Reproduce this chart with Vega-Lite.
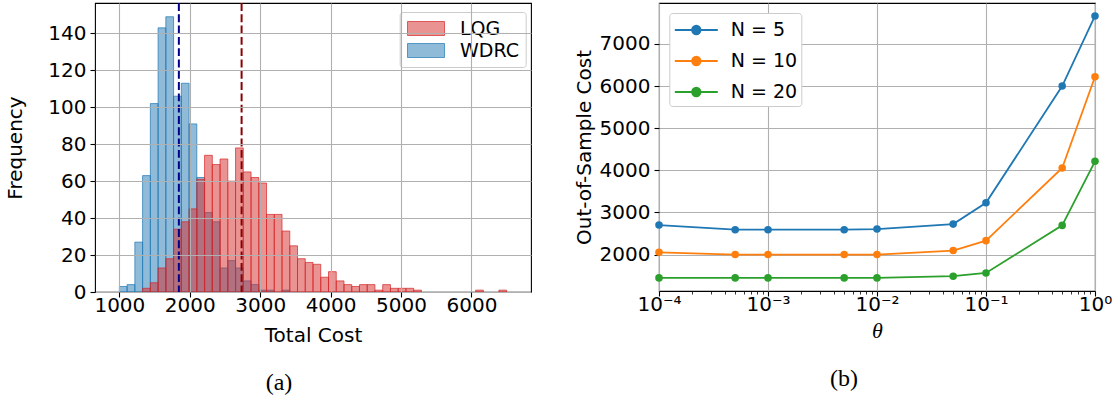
{
  "$schema": "https://vega.github.io/schema/vega-lite/v6.json",
  "background": "white",
  "padding": {"left": 5, "top": 1, "right": 5, "bottom": 0},
  "spacing": 41,
  "config": {
    "view": {"stroke": "#000000", "strokeWidth": 1.1},
    "axis": {
      "labelFont": "DejaVu Sans", "labelFontSize": 20, "labelColor": "#000000",
      "titleFont": "DejaVu Sans", "titleFontSize": 20, "titleFontWeight": "normal", "titleColor": "#000000",
      "tickColor": "#000000", "tickSize": 5, "tickWidth": 1.1, "domain": false,
      "gridColor": "#b0b0b0", "gridWidth": 1.1, "labelPadding": 4, "labelFlush": false, "labelOverlap": false
    }
  },
  "resolve": {"scale": {"fill": "independent", "stroke": "independent", "color": "independent"}},
  "hconcat": [
    {
      "width": 436,
      "height": 289,
      "title": {"text": "(a)", "orient": "bottom", "frame": "group", "anchor": "middle", "dx": -34, "offset": 26, "font": "Liberation Serif", "fontSize": 24, "fontWeight": "normal", "color": "#000000"},
      "layer": [
        {
          "data": {"values": [
            {"series": "WDRC", "start": 1000, "end": 1110, "count": 3},
            {"series": "WDRC", "start": 1110, "end": 1220, "count": 4},
            {"series": "WDRC", "start": 1220, "end": 1330, "count": 27},
            {"series": "WDRC", "start": 1330, "end": 1440, "count": 63},
            {"series": "WDRC", "start": 1440, "end": 1550, "count": 102},
            {"series": "WDRC", "start": 1550, "end": 1660, "count": 143},
            {"series": "WDRC", "start": 1660, "end": 1770, "count": 149},
            {"series": "WDRC", "start": 1770, "end": 1880, "count": 106},
            {"series": "WDRC", "start": 1880, "end": 1990, "count": 113},
            {"series": "WDRC", "start": 1990, "end": 2100, "count": 91},
            {"series": "WDRC", "start": 2100, "end": 2210, "count": 62},
            {"series": "WDRC", "start": 2210, "end": 2320, "count": 43},
            {"series": "WDRC", "start": 2320, "end": 2430, "count": 38},
            {"series": "WDRC", "start": 2430, "end": 2540, "count": 13},
            {"series": "WDRC", "start": 2540, "end": 2650, "count": 17},
            {"series": "WDRC", "start": 2650, "end": 2760, "count": 13},
            {"series": "WDRC", "start": 2760, "end": 2870, "count": 6},
            {"series": "WDRC", "start": 2870, "end": 2980, "count": 4},
            {"series": "WDRC", "start": 2980, "end": 3090, "count": 1},
            {"series": "WDRC", "start": 3090, "end": 3200, "count": 1},
            {"series": "WDRC", "start": 3310, "end": 3420, "count": 1},
            {"series": "LQG", "start": 1330, "end": 1440, "count": 2},
            {"series": "LQG", "start": 1440, "end": 1550, "count": 5},
            {"series": "LQG", "start": 1550, "end": 1660, "count": 13},
            {"series": "LQG", "start": 1660, "end": 1770, "count": 18},
            {"series": "LQG", "start": 1770, "end": 1880, "count": 34},
            {"series": "LQG", "start": 1880, "end": 1990, "count": 38},
            {"series": "LQG", "start": 1990, "end": 2100, "count": 45},
            {"series": "LQG", "start": 2100, "end": 2210, "count": 61},
            {"series": "LQG", "start": 2210, "end": 2320, "count": 74},
            {"series": "LQG", "start": 2320, "end": 2430, "count": 69},
            {"series": "LQG", "start": 2430, "end": 2540, "count": 72},
            {"series": "LQG", "start": 2540, "end": 2650, "count": 60},
            {"series": "LQG", "start": 2650, "end": 2760, "count": 78},
            {"series": "LQG", "start": 2760, "end": 2870, "count": 65},
            {"series": "LQG", "start": 2870, "end": 2980, "count": 62},
            {"series": "LQG", "start": 2980, "end": 3090, "count": 59},
            {"series": "LQG", "start": 3090, "end": 3200, "count": 42},
            {"series": "LQG", "start": 3200, "end": 3310, "count": 42},
            {"series": "LQG", "start": 3310, "end": 3420, "count": 33},
            {"series": "LQG", "start": 3420, "end": 3530, "count": 25},
            {"series": "LQG", "start": 3530, "end": 3640, "count": 18},
            {"series": "LQG", "start": 3640, "end": 3750, "count": 16},
            {"series": "LQG", "start": 3750, "end": 3860, "count": 15},
            {"series": "LQG", "start": 3860, "end": 3970, "count": 8},
            {"series": "LQG", "start": 3970, "end": 4080, "count": 11},
            {"series": "LQG", "start": 4080, "end": 4190, "count": 6},
            {"series": "LQG", "start": 4190, "end": 4300, "count": 4},
            {"series": "LQG", "start": 4300, "end": 4410, "count": 3},
            {"series": "LQG", "start": 4410, "end": 4520, "count": 4},
            {"series": "LQG", "start": 4520, "end": 4630, "count": 4},
            {"series": "LQG", "start": 4630, "end": 4740, "count": 1},
            {"series": "LQG", "start": 4740, "end": 4850, "count": 4},
            {"series": "LQG", "start": 4850, "end": 4960, "count": 2},
            {"series": "LQG", "start": 4960, "end": 5070, "count": 2},
            {"series": "LQG", "start": 5070, "end": 5180, "count": 2},
            {"series": "LQG", "start": 5180, "end": 5290, "count": 1},
            {"series": "LQG", "start": 6060, "end": 6170, "count": 1},
            {"series": "LQG", "start": 6390, "end": 6500, "count": 1}
          ]},
          "mark": {"type": "bar", "orient": "vertical", "fillOpacity": 0.5, "strokeOpacity": 0.7, "strokeWidth": 1},
          "encoding": {
            "x": {"field": "start", "type": "quantitative",
                  "scale": {"domain": [725, 6775], "nice": false, "zero": false},
                  "axis": {"values": [1000, 2000, 3000, 4000, 5000, 6000], "format": "d", "title": "Total Cost", "labelPadding": -2, "titlePadding": 10, "grid": true, "zindex": 1}},
            "x2": {"field": "end"},
            "y": {"field": "count", "type": "quantitative",
                  "scale": {"domain": [0, 156.45], "nice": false},
                  "axis": {"values": [0, 20, 40, 60, 80, 100, 120, 140], "format": "d", "title": "Frequency", "titlePadding": 22, "grid": true, "zindex": 1}},
            "y2": {"datum": 0},
            "fill": {"field": "series", "type": "nominal",
                     "scale": {"domain": ["LQG", "WDRC"], "range": ["#d62728", "#1f77b4"]},
                     "legend": {"title": null, "orient": "none", "legendX": 304.7, "legendY": 9,
                                "symbolType": "M-1.85,-0.7H1.85V0.7H-1.85Z", "symbolSize": 400, "symbolStrokeWidth": 1,
                                "symbolOffset": 9.8, "labelOffset": 23.5, "labelFont": "DejaVu Sans", "labelFontSize": 19, "labelColor": "#000000",
                                "rowPadding": 1, "padding": 6, "strokeColor": "#cccccc", "fillColor": "#ffffff", "cornerRadius": 3,
                                "encode": {"symbols": {"update": {"fillOpacity": {"value": 0.5}, "strokeOpacity": {"value": 0.7}}}}}},
            "stroke": {"field": "series", "type": "nominal",
                       "scale": {"domain": ["LQG", "WDRC"], "range": ["#d62728", "#1f77b4"]},
                       "legend": {"title": null, "orient": "none", "legendX": 304.7, "legendY": 9,
                                  "symbolType": "M-1.85,-0.7H1.85V0.7H-1.85Z", "symbolSize": 400, "symbolStrokeWidth": 1,
                                  "symbolOffset": 9.8, "labelOffset": 23.5, "labelFont": "DejaVu Sans", "labelFontSize": 19, "labelColor": "#000000",
                                  "rowPadding": 1, "padding": 6, "strokeColor": "#cccccc", "fillColor": "#ffffff", "cornerRadius": 3,
                                  "encode": {"symbols": {"update": {"fillOpacity": {"value": 0.5}, "strokeOpacity": {"value": 0.7}}}}}}
          }
        },
        {
          "data": {"values": [
            {"series": "LQG", "mean": 2736},
            {"series": "WDRC", "mean": 1845}
          ]},
          "mark": {"type": "rule", "strokeDash": [7.9, 3.4], "strokeWidth": 2},
          "encoding": {
            "x": {"field": "mean", "type": "quantitative"},
            "color": {"field": "series", "type": "nominal", "scale": {"domain": ["LQG", "WDRC"], "range": ["#8b0000", "#00008b"]}, "legend": null}
          }
        }
      ]
    },
    {
      "width": 436,
      "height": 288,
      "title": {"text": "(b)", "orient": "bottom", "frame": "group", "anchor": "middle", "dx": -33, "offset": 26, "font": "Liberation Serif", "fontSize": 24, "fontWeight": "normal", "color": "#000000"},
      "data": {"values": [
        {"N": "N = 5", "theta": 0.0001, "cost": 2700},
        {"N": "N = 5", "theta": 0.0005, "cost": 2591},
        {"N": "N = 5", "theta": 0.001, "cost": 2591},
        {"N": "N = 5", "theta": 0.005, "cost": 2591},
        {"N": "N = 5", "theta": 0.01, "cost": 2605},
        {"N": "N = 5", "theta": 0.05, "cost": 2723},
        {"N": "N = 5", "theta": 0.1, "cost": 3229},
        {"N": "N = 5", "theta": 0.5, "cost": 6000},
        {"N": "N = 5", "theta": 1, "cost": 7662},
        {"N": "N = 10", "theta": 0.0001, "cost": 2054},
        {"N": "N = 10", "theta": 0.0005, "cost": 2000},
        {"N": "N = 10", "theta": 0.001, "cost": 2000},
        {"N": "N = 10", "theta": 0.005, "cost": 2000},
        {"N": "N = 10", "theta": 0.01, "cost": 2000},
        {"N": "N = 10", "theta": 0.05, "cost": 2095},
        {"N": "N = 10", "theta": 0.1, "cost": 2331},
        {"N": "N = 10", "theta": 0.5, "cost": 4055},
        {"N": "N = 10", "theta": 1, "cost": 6220},
        {"N": "N = 20", "theta": 0.0001, "cost": 1447},
        {"N": "N = 20", "theta": 0.0005, "cost": 1447},
        {"N": "N = 20", "theta": 0.001, "cost": 1447},
        {"N": "N = 20", "theta": 0.005, "cost": 1447},
        {"N": "N = 20", "theta": 0.01, "cost": 1447},
        {"N": "N = 20", "theta": 0.05, "cost": 1487},
        {"N": "N = 20", "theta": 0.1, "cost": 1565},
        {"N": "N = 20", "theta": 0.5, "cost": 2693},
        {"N": "N = 20", "theta": 1, "cost": 4213}
      ]},
      "resolve": {"axis": {"x": "independent"}},
      "layer": [
        {
          "mark": {"type": "line", "strokeWidth": 1.8},
          "encoding": {
            "x": {"field": "theta", "type": "quantitative",
                  "scale": {"type": "log", "domain": [0.0001, 1], "nice": false},
                  "axis": {"values": [0.0001, 0.001, 0.01, 0.1, 1], "grid": true, "title": "θ", "titleFont": "Liberation Serif", "titleFontStyle": "italic", "titleFontSize": 22, "labelPadding": -2, "titlePadding": 6,
                           "labelExpr": "datum.value < 0.0005 ? '10⁻⁴' : datum.value < 0.005 ? '10⁻³' : datum.value < 0.05 ? '10⁻²' : datum.value < 0.5 ? '10⁻¹' : '10⁰'"}},
            "y": {"field": "cost", "type": "quantitative",
                  "scale": {"domain": [1136, 7970], "nice": false, "zero": false},
                  "axis": {"values": [2000, 3000, 4000, 5000, 6000, 7000], "format": "d", "grid": true, "title": "Out-of-Sample Cost", "titlePadding": 5}},
            "stroke": {"field": "N", "type": "nominal",
                       "scale": {"domain": ["N = 5", "N = 10", "N = 20"], "range": ["#1f77b4", "#ff7f0e", "#2ca02c"]},
                       "legend": {"title": null, "orient": "none", "legendX": 10.3, "legendY": 10,
                                  "symbolType": "M-1.79,0H1.79M-0.354,0A0.354,0.354,0,1,1,0.354,0A0.354,0.354,0,1,1,-0.354,0Z",
                                  "symbolSize": 576, "symbolStrokeWidth": 1.8, "symbolOffset": 10, "labelOffset": 21.5,
                                  "labelFont": "DejaVu Sans", "labelFontSize": 19, "labelColor": "#000000",
                                  "rowPadding": 8, "padding": 4, "strokeColor": "#cccccc", "fillColor": "#ffffff", "cornerRadius": 3}}
          }
        },
        {
          "mark": {"type": "point", "filled": true, "size": 57, "opacity": 1},
          "encoding": {
            "x": {"field": "theta", "type": "quantitative",
                  "axis": {"orient": "bottom", "values": [0.0002, 0.0003, 0.0004, 0.0005, 0.0006, 0.0007, 0.0008, 0.0009, 0.002, 0.003, 0.004, 0.005, 0.006, 0.007, 0.008, 0.009, 0.02, 0.03, 0.04, 0.05, 0.06, 0.07, 0.08, 0.09, 0.2, 0.3, 0.4, 0.5, 0.6, 0.7, 0.8, 0.9],
                           "labels": false, "grid": false, "title": null, "tickSize": 3, "tickWidth": 0.8}},
            "y": {"field": "cost", "type": "quantitative"},
            "fill": {"field": "N", "type": "nominal",
                     "scale": {"domain": ["N = 5", "N = 10", "N = 20"], "range": ["#1f77b4", "#ff7f0e", "#2ca02c"]},
                     "legend": {"title": null, "orient": "none", "legendX": 10.3, "legendY": 10,
                                "symbolType": "M-1.79,0H1.79M-0.354,0A0.354,0.354,0,1,1,0.354,0A0.354,0.354,0,1,1,-0.354,0Z",
                                "symbolSize": 576, "symbolStrokeWidth": 1.8, "symbolOffset": 10, "labelOffset": 21.5,
                                "labelFont": "DejaVu Sans", "labelFontSize": 19, "labelColor": "#000000",
                                "rowPadding": 8, "padding": 4, "strokeColor": "#cccccc", "fillColor": "#ffffff", "cornerRadius": 3}}
          }
        }
      ]
    }
  ]
}
